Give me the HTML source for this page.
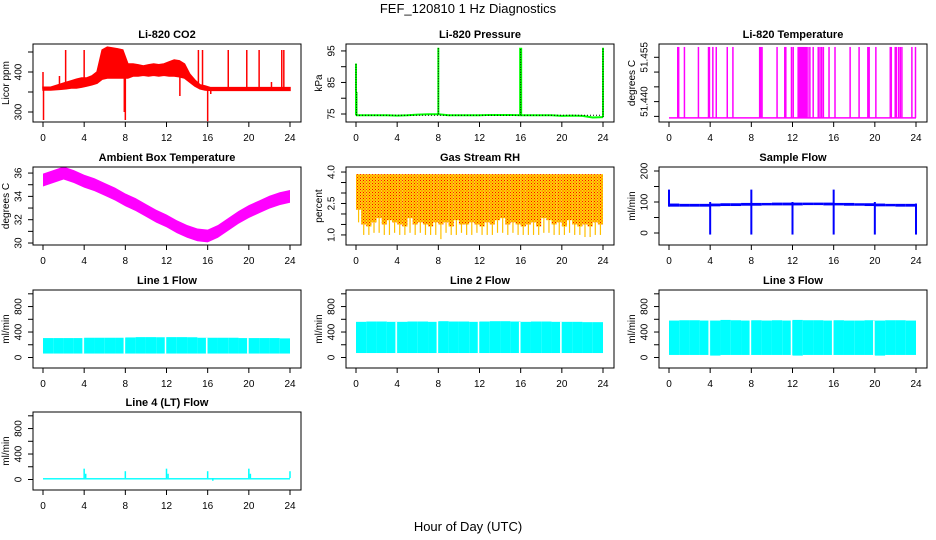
<!DOCTYPE html>
<html><head><meta charset="utf-8">
<style>
html,body{margin:0;padding:0;background:#fff;}
svg{display:block;font-family:"Liberation Sans",Arial,sans-serif;}
</style></head>
<body>
<svg id="chart" width="936" height="540" viewBox="0 0 936 540">
<defs>
<pattern id="rhpat" width="3" height="3" patternUnits="userSpaceOnUse">
<rect width="3" height="3" fill="#ffd000"/>
<rect x="0" y="0" width="1" height="1" fill="#ff0000"/>
<rect x="1.5" y="1.5" width="1" height="1" fill="#ff3000"/>
</pattern>
</defs>
<text x="468" y="13" text-anchor="middle" font-size="13">FEF_120810  1 Hz Diagnostics</text>
<text x="468" y="531" text-anchor="middle" font-size="13">Hour of Day (UTC)</text>
</svg>
<script>
// ---- data ----
const xTicks = [0,4,8,12,16,20,24];
const co2Lo = [355,355,356,357,358,360,360,362, 365,368,372,382,385,385,385,385, 385,390,390,392,390,392,390,392, 390,390,388,385,375,365,358,355, 354,354,354,354,354,354,354,354,354,354,354,354,354,354,354,354];
const co2Hi = [362,362,366,370,374,378,382,385, 385,390,400,455,462,460,458,455, 420,420,418,415,418,420,418,420, 425,430,428,420,395,380,368,365, 361,361,361,361,361,361,361,361,361,361,361,361,361,361,361,361];
const co2SpikeT = [0,0.05,1.6,2.2,4,7.9,8,8.1,13.3,15.1,15.5,16,16.3,18,19.8,21,22.2,23.2,23.4];
const co2SpikeV = [400,280,390,455,455,300,280,405,340,455,455,277,345,455,455,455,375,455,455];
const pressBase = [74.6,74.6,74.6,74.6,74.5,74.6,74.8,74.9,74.9,74.6,74.6,74.6,74.6,74.7,74.7,74.7,74.6,74.6,74.6,74.6,74.4,74.5,74.4,73.9,74.0];
const pressSpikeT = [0,0.05,8,16,24];
const pressSpikeV = [91,82,96,96,96];
const tempBase = [51.4345];
const tempTop = [51.4585];
const tempSpikeT = [0.85,0.94,1.5,2.86,3.84,3.93,4.26,4.59,5.66,6.21,8.81,8.91,9.04,10.5,11.25,11.35,11.9,12.07,12.55,12.65,12.75,12.85,12.95,13.05,13.15,13.25,13.35,13.5,13.69,14.01,14.5,14.67,14.83,15.0,15.55,16.13,17.6,18.47,19.32,19.45,20.1,21.5,21.6,21.98,22.08,22.3,22.47,22.63,23.6,23.95];
const ambMid = [35.4,35.7,36.0,35.7,35.3,35.0,34.6,34.2,33.7,33.3,32.8,32.3,31.9,31.4,31.0,30.7,30.6,31.0,31.6,32.2,32.7,33.1,33.5,33.8,34.0];
const ambHalf = [0.55];
const rhHi = [3.9];
const rhCore = [2.2,1.5,1.4,1.6,1.8,1.5,1.7,1.6,1.5,1.4,1.8,1.5,1.6,1.5,1.4,1.6,1.5,1.6,1.4,1.7,1.5,1.5,1.6,1.5,1.4,1.6,1.5,1.7,1.8,1.5,1.6,1.5,1.4,1.5,1.6,1.4,1.8,1.7,1.5,1.6,1.4,1.7,1.5,1.4,1.5,1.4,1.6,1.5];
const rhMin = [1.6,1.0,1.0,1.1,1.1,1.0,1.0,1.1,1.0,1.0,1.1,1.0,1.1,1.0,1.0,1.0,0.8,1.1,1.0,1.0,1.1,1.0,1.0,1.1,1.0,1.0,1.0,1.1,1.1,1.0,1.1,1.0,1.0,1.0,1.0,1.0,1.1,1.1,1.0,1.0,1.0,1.1,1.0,1.0,0.9,0.9,1.0,1.0];
const sampleLo = [85,85,85,85,86,87,87,88,88,89,89,89,89,90,90,89,89,88,88,87,86,86,85,85];
const sampleHi = [95,94,94,94,95,96,96,97,97,97,98,98,98,98,98,98,97,97,96,96,95,94,94,94];
const sampleSpikeT = [0,4,8,12,16,20,24];
const sampleSpikeHi = [140,100,140,100,140,100,95];
const sampleSpikeLo = [85,-5,-5,-5,-5,-5,-5];
const gapHours = [4,8,12,16,20];
const line1Lo = [62,62,62,62,62,62,62,62,62,62,62,62,62,62,62,62,62,62,62,62,62,62,62,62];
const line1Hi = [305,305,305,305,310,310,310,310,315,320,320,318,320,320,318,310,310,310,310,305,305,305,305,300];
const line2Lo = [70,70,70,70,70,70,70,70,70,70,70,70,70,70,70,70,70,70,70,70,70,70,70,70];
const line2Hi = [560,565,565,560,560,565,565,560,570,565,565,560,565,570,570,565,560,565,565,560,560,560,555,555];
const line3Lo = [40,40,40,40,30,40,40,40,40,40,40,40,30,40,40,40,40,40,40,40,30,40,40,40];
const line3Hi = [580,585,585,580,580,590,585,580,585,580,585,580,590,585,585,580,585,580,580,585,580,585,585,580];
const line4Base = [22];
const line4SpikeT = [4,4.15,8,12,12.15,16,16.5,20,20.15,24];
const line4SpikeV = [170,90,130,170,90,130,-20,170,90,130];

// ---- layout ----
const NS = "http://www.w3.org/2000/svg";
const svg = document.getElementById('chart');
const colL = [33,346,659], colW = 268;
const rowT = [44,167,290,412], rowH = 78;
function mk(tag, attrs, parent){
  const e = document.createElementNS(NS, tag);
  for (const k in attrs) e.setAttribute(k, attrs[k]);
  (parent||svg).appendChild(e);
  return e;
}
function panel(col,row,title,ylab,ymin,ymax,yticks,ylabels,name,dec){
  const L = colL[col], T = rowT[row];
  const g = mk('g',{});
  
  
  const x = h => L + 10 + h*(247/24);
  const y = v => T + rowH - (v-ymin)/(ymax-ymin)*rowH;
  const plot = mk('g',{}, g);
  
  
  const box = mk('rect',{x:L,y:T,width:colW,height:rowH,fill:'none',stroke:'#000','stroke-width':1}, g);
  
  
  const tt = mk('text',{x:L+colW/2,y:T-6,'text-anchor':'middle','font-size':11,'font-weight':'bold'}, g);
  tt.textContent = title;
  
  
  const xa = mk('g',{}, g);
  
  
  mk('line',{x1:x(0),x2:x(24),y1:T+rowH,y2:T+rowH,stroke:'#000'}, xa);
  xTicks.forEach(h=>{
    mk('line',{x1:x(h),x2:x(h),y1:T+rowH,y2:T+rowH+5,stroke:'#000'}, xa);
    const t = mk('text',{x:x(h),y:T+rowH+19,'text-anchor':'middle','font-size':10}, xa);
    t.textContent = h;
    
    
  });
  const ya = mk('g',{}, g);
  
  
  mk('line',{x1:L,x2:L,y1:y(yticks[0]),y2:y(yticks[yticks.length-1]),stroke:'#000'}, ya);
  yticks.forEach(v=>mk('line',{x1:L-5,x2:L,y1:y(v),y2:y(v),stroke:'#000'}, ya));
  ylabels.forEach(v=>{
    const t = mk('text',{x:L-15,y:y(v),'text-anchor':'middle','font-size':10,transform:`rotate(-90 ${L-15} ${y(v)})`,dy:'0.35em'}, ya);
    t.textContent = dec ? v.toFixed(dec) : v;
    
    
  });
  const yl = mk('text',{x:L-24,y:T+rowH/2,'text-anchor':'middle','font-size':10,transform:`rotate(-90 ${L-24} ${T+rowH/2})`}, g);
  yl.textContent = ylab;
  
  
  return {x,y,plot};
}
function rect(p,x0,x1,y0,y1,fill){
  const r = mk('rect',{x:Math.min(x0,x1),y:Math.min(y0,y1),width:Math.max(0.8,Math.abs(x1-x0)),height:Math.max(1,Math.abs(y1-y0)),fill:fill}, p.plot);
  
  
  return r;
}
function vline(p,h,v0,v1,color,w,dash){
  const l = mk('line',{x1:p.x(h),x2:p.x(h),y1:p.y(v0),y2:p.y(v1),stroke:color,'stroke-width':w||1.5}, p.plot);
  if (dash) l.setAttribute('stroke-dasharray', dash);
  
  
  return l;
}

// CO2
let p = panel(0,0,'Li-820 CO2','Licor ppm',275,470,[300,350,400,450],[300,400],'co2');
{
  const up = co2Hi.map((v,i)=>p.x(i*0.5+0.25)+','+p.y(v));
  const dn = co2Lo.map((v,i)=>p.x(i*0.5+0.25)+','+p.y(v)).reverse();
  up.unshift(p.x(0)+','+p.y(co2Hi[0])); up.push(p.x(24)+','+p.y(co2Hi[47]));
  dn.unshift(p.x(24)+','+p.y(co2Lo[47])); dn.push(p.x(0)+','+p.y(co2Lo[0]));
  const pg = mk('polygon',{points:up.concat(dn).join(' '),fill:'#ff0000',stroke:'#ff0000','stroke-width':1.5}, p.plot);
  
  
}
co2SpikeT.forEach((t,i)=>{const k=Math.min(47,Math.floor(t*2)); vline(p,t,(co2Lo[k]+co2Hi[k])/2,co2SpikeV[i],'#ff0000',1.5);});

// Pressure
p = panel(1,0,'Li-820 Pressure','kPa',72.46,97.2,[75,80,85,90,95],[75,85,95],'pressure');
{
  const pts = pressBase.map((v,i)=>p.x(i)+','+p.y(v)).join(' ');
  const pl = mk('polyline',{points:pts,fill:'none',stroke:'#00ff00','stroke-width':2}, p.plot);
  
  
  mk('line',{x1:p.x(0),x2:p.x(24),y1:p.y(pressBase[0]),y2:p.y(pressBase[0]),stroke:'#000','stroke-dasharray':'1 2'}, p.plot);
  pressSpikeT.forEach((t,i)=>{
    vline(p,t,pressBase[Math.round(t)],pressSpikeV[i],'#00ff00',i===3?3:2);
    vline(p,t,pressBase[Math.round(t)],pressSpikeV[i],'#000',1,'1 1.5');
  });
}

// Li-820 temperature
p = panel(2,0,'Li-820 Temperature','degrees C',51.4331,51.4595,[51.435,51.440,51.445,51.450,51.455],[51.440,51.455],'litemp',3);
{
  const b = mk('line',{x1:p.x(0),x2:p.x(24),y1:p.y(tempBase[0]),y2:p.y(tempBase[0]),stroke:'#ff00ff','stroke-width':1.5}, p.plot);
  
  
  tempSpikeT.forEach(t=>vline(p,t,tempBase[0],tempTop[0],'#ff00ff',1.5));
}

// Ambient
p = panel(0,1,'Ambient Box Temperature','degrees C',29.83,36.52,[30,31,32,33,34,35,36],[30,32,34,36],'ambient');
{
  const up = ambMid.map((v,i)=>p.x(i)+','+p.y(v+ambHalf[0]));
  const dn = ambMid.map((v,i)=>p.x(i)+','+p.y(v-ambHalf[0])).reverse();
  const pg = mk('polygon',{points:up.concat(dn).join(' '),fill:'#ff00ff'}, p.plot);
  
  
}

// RH
p = panel(1,1,'Gas Stream RH','percent',0.52,4.24,[1.0,1.5,2.0,2.5,3.0,3.5,4.0],[1.0,2.5,4.0],'rh',1);
rhCore.forEach((lo,i)=>{
  rect(p,p.x(i*0.5),p.x((i+1)*0.5),p.y(lo),p.y(rhHi[0]),'url(#rhpat)');
  vline(p,i*0.5+0.25,lo,rhMin[i],'#ffc000',1.2);
});

// Sample flow
p = panel(2,1,'Sample Flow','ml/min',-38.7,212.9,[0,50,100,150,200],[0,100,200],'sample');
sampleLo.forEach((lo,i)=>rect(p,p.x(i),p.x(i+1),p.y(lo),p.y(sampleHi[i]),'#0000ff'));
sampleSpikeT.forEach((t,i)=>vline(p,t,sampleSpikeLo[i],sampleSpikeHi[i],'#0000ff',2));

// Line flows
const fMin=-165, fMax=1060, fTicks=[0,200,400,600,800,1000], fLab=[0,400,800];
function flowPanel(col,row,title,lo,hi,name){
  const q = panel(col,row,title,'ml/min',fMin,fMax,fTicks,fLab,name);
  lo.forEach((v,i)=>rect(q,q.x(i),q.x(i+1),q.y(v),q.y(hi[i]),'#00ffff'));
  gapHours.forEach(h=>{
    const l = mk('line',{x1:q.x(h)-1,x2:q.x(h)-1,y1:q.y(lo[h]),y2:q.y(hi[h]),stroke:'#fff','stroke-width':1.5}, q.plot);
    
    
  });
  return q;
}
flowPanel(0,2,'Line 1 Flow',line1Lo,line1Hi,'line1');
flowPanel(1,2,'Line 2 Flow',line2Lo,line2Hi,'line2');
flowPanel(2,2,'Line 3 Flow',line3Lo,line3Hi,'line3');
p = panel(0,3,'Line 4 (LT) Flow','ml/min',fMin,fMax,fTicks,fLab,'line4');
rect(p,p.x(0),p.x(24),p.y(0),p.y(line4Base[0]),'#00ffff');
line4SpikeT.forEach((t,i)=>vline(p,t,line4Base[0],line4SpikeV[i],'#00ffff',1.5));
</script>
</body></html>
